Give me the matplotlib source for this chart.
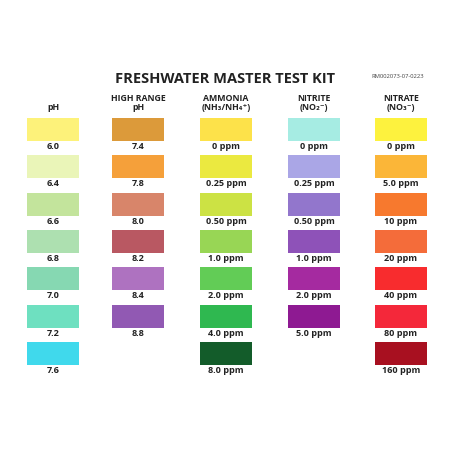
import matplotlib.pyplot as plt
from matplotlib.patches import Rectangle

plt.rcParams['font.family'] = ['Open Sans', 'DejaVu Sans']

headers = ['pH', 'HIGH RANGE\npH', 'AMMONIA\n(NH₃/NH₄⁺)', 'NITRITE\n(NO₂⁻)', 'NITRATE\n(NO₃⁻)']

ph_labels = ['6.0', '6.4', '6.6', '6.8', '7.0', '7.2', '7.6']
ph_colors = ['#fdf27a', '#eaf5b8', '#c3e49c', '#ade0b0', '#86d8b2', '#6ee0c0', '#40d9ec']

hr_labels = ['7.4', '7.8', '8.0', '8.2', '8.4', '8.8']
hr_colors = ['#dc9a3a', '#f5a03a', '#d8856a', '#b95862', '#ae72c0', '#9159b3']

nh3_labels = ['0 ppm', '0.25 ppm', '0.50 ppm', '1.0 ppm', '2.0 ppm', '4.0 ppm', '8.0 ppm']
nh3_colors = ['#fde24a', '#ebe940', '#cce244', '#98d655', '#62cc56', '#2fb850', '#135c2a']

no2_labels = ['0 ppm', '0.25 ppm', '0.50 ppm', '1.0 ppm', '2.0 ppm', '5.0 ppm']
no2_colors = ['#a6ece3', '#aaa6e6', '#9276cc', '#8e52b8', '#a52aa0', '#8e1a92']

no3_labels = ['0 ppm', '5.0 ppm', '10 ppm', '20 ppm', '40 ppm', '80 ppm', '160 ppm']
no3_colors = ['#fdf23e', '#fbb638', '#f7792e', '#f46c3a', '#f82c2e', '#f4283a', '#a81020']

columns = [(ph_labels, ph_colors), (hr_labels, hr_colors), (nh3_labels, nh3_colors),
           (no2_labels, no2_colors), (no3_labels, no3_colors)]

col_x = [27, 112, 200, 288, 375]
row_top = 118
row_step = 37.3
sw_w, sw_h = 52, 23

fig = plt.figure(figsize=(4.5, 4.5), dpi=100)
ax = fig.add_axes([0, 0, 1, 1])
ax.set_xlim(0, 450)
ax.set_ylim(450, 0)
ax.axis('off')

ax.text(225, 79, 'FRESHWATER MASTER TEST KIT', ha='center', va='center',
        fontsize=10.5, fontweight='bold', color='#222222')
ax.text(398, 76, 'RM002073-07-0223', ha='center', va='center', fontsize=4.2, color='#444444')

for x, head, (labels, colors) in zip(col_x, headers, columns):
    ax.text(x + sw_w / 2, 112, head, ha='center', va='bottom', fontsize=6.3,
            fontweight='bold', color='#222222', linespacing=1.0)
    for i, (lab, c) in enumerate(zip(labels, colors)):
        y = row_top + i * row_step
        ax.add_patch(Rectangle((x, y), sw_w, sw_h, facecolor=c, edgecolor='none'))
        ax.text(x + sw_w / 2, y + sw_h + 5.5, lab, ha='center', va='center',
                fontsize=6.5, fontweight='bold', color='#222222')

fig.savefig('out.png', dpi=100, facecolor='white')
